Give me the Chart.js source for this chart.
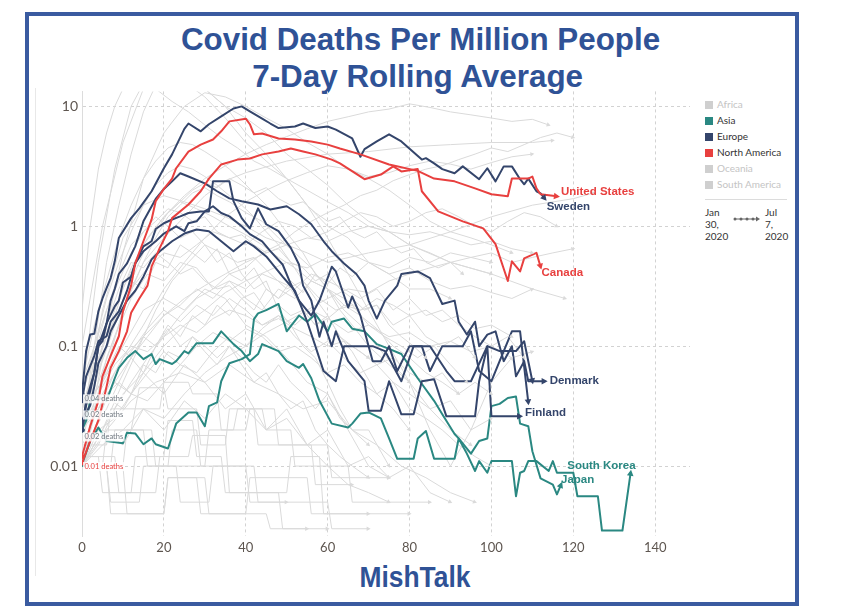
<!DOCTYPE html>
<html>
<head>
<meta charset="utf-8">
<script src="https://cdn.jsdelivr.net/npm/chart.js@4.4.0/dist/chart.umd.min.js"></script>
<style>
  html, body { margin: 0; padding: 0; background: #fff; }
  body { width: 846px; height: 608px; position: relative; overflow: hidden; font-family: Lato, 'Open Sans', sans-serif; }
  .frame { position: absolute; left: 25px; top: 12px; width: 766px; height: 586px; border: 4px solid #3a5ba0; }
  .head { position: absolute; width: 600px; text-align: center; color: #2f5296; font-family: 'Liberation Sans Narrow', 'Liberation Sans', Arial, sans-serif; font-weight: bold; white-space: nowrap; line-height: 1; }
  .head span { display: inline-block; transform-origin: center; }
  .leftline { position: absolute; left: 35px; top: 88px; height: 488px; border-left: 1px solid #e8e8e8; }
  #chartBox { position: absolute; left: 36px; top: 79px; width: 664px; height: 482px; }
  .legend { position: absolute; left: 705px; top: 96px; width: 84px; font-size: 10px; color: #333; }
  .legend .row { height: 16px; line-height: 16px; white-space: nowrap; }
  .legend .sw { display: inline-block; width: 8px; height: 8px; margin-right: 4px; vertical-align: -0.5px; }
  .legend .sep { border-top: 1px solid #dcdcdc; margin: 7px 0 6px 0; width: 82px; }
  .dates { position: relative; height: 40px; font-size: 10px; line-height: 12px; color: #333; }
  .dates .d1 { position: absolute; left: 0; top: 0; }
  .dates .d2 { position: absolute; left: 60px; top: 0; }
  .dates svg { position: absolute; left: 27px; top: 9px; }
</style>
</head>
<body>
<div class="frame"></div>
<div class="head" id="t1" style="left:120px; top:23px; font-size:32px;"><span>Covid Deaths Per Million People</span></div>
<div class="head" id="t2" style="left:118px; top:60px; font-size:32px;"><span>7-Day Rolling Average</span></div>
<div class="head" id="t3" style="left:115px; top:563px; font-size:29px;"><span>MishTalk</span></div>
<div class="leftline"></div>
<div id="chartBox"><canvas id="chart"></canvas></div>
<div class="legend" id="legend"></div>

<script>
// Axis ticks
const xTicks = [0, 20, 40, 60, 80, 100, 120, 140];
const yTicks = [0.01, 0.1, 1, 10];
const yTickLabels = ['0.01', '0.1', '1', '10'];

// Legend
const regions = ['Africa', 'Asia', 'Europe', 'North America', 'Oceania', 'South America'];
const regionShown = [false, true, true, true, false, false];
const dateStart = ['Jan', '30,', '2020'];
const dateEnd = ['Jul', '7,', '2020'];

// Highlighted countries: [days since 0.01 deaths, deaths per million]
const unitedStates = [[0,0.012],[2,0.0215],[4,0.035],[5,0.056],[7,0.083],[9,0.121],[10,0.195],[12,0.32],[13,0.49],[15,0.75],[17,1.14],[18,1.62],[20,2.05],[22,2.5],[23,3.05],[26,4.2],[29,4.8],[32,5.3],[34,6.2],[36,7.5],[40,7.9],[41,7.1],[42,5.85],[44,5.95],[48,5.4],[52,5.3],[56,5.1],[60,4.8],[63,4.45],[68,3.98],[75,3.28],[82,2.9],[86,2.5],[91,2.37],[96,2.07],[100,1.85],[104,1.78],[105,2.5],[109,2.5],[110,2.6],[111,2.07],[112,1.85],[116,1.78]];
const canada = [[0,0.0106],[2,0.0162],[4,0.024],[5,0.033],[6,0.046],[7,0.066],[9,0.091],[11,0.133],[12,0.19],[14,0.25],[16,0.32],[17,0.46],[19,0.66],[21,0.91],[22,1.17],[26,1.52],[29,1.96],[31,2.5],[34,3.28],[38,3.6],[41,3.68],[44,3.98],[48,4.2],[51,4.45],[54,4.2],[57,3.98],[61,3.6],[63,3.35],[69,2.47],[73,2.7],[76,3.16],[78,2.87],[82,3.0],[83,1.96],[87,1.33],[93,1.1],[98,0.96],[101,0.71],[104,0.35],[105,0.51],[107,0.42],[108,0.54],[111,0.6],[112,0.46]];
const sweden = [[0,0.04],[1,0.091],[2,0.125],[3,0.127],[4,0.195],[5,0.25],[6,0.305],[7,0.37],[8,0.51],[9,0.8],[12,1.17],[14,1.41],[17,1.96],[20,3.05],[22,3.98],[25,6.5],[26,7.2],[29,6.2],[31,7.1],[34,8.25],[37,9.6],[39,10],[41,9.1],[44,7.9],[46,7.2],[48,6.6],[52,6.8],[54,7.2],[57,6.6],[60,6.8],[62,6.4],[66,5.4],[68,3.8],[69,4.4],[72,5.1],[75,5.85],[78,5.1],[83,3.6],[84,3.7],[86,3.35],[88,3.0],[91,2.77],[93,3.16],[97,2.47],[99,3.05],[101,2.37],[103,3.16],[105,3.16],[107,2.47],[108,2.24],[109,2.5],[111,1.96],[112,1.88],[113,1.71]];
const denmark = [[0,0.02],[1,0.032],[2,0.042],[3,0.06],[4,0.1],[6,0.155],[7,0.24],[8,0.3],[9,0.4],[11,0.49],[13,0.68],[15,1.1],[18,1.69],[20,2.05],[22,2.37],[24,2.77],[26,2.6],[30,2.28],[33,1.96],[36,1.71],[39,1.62],[43,1.52],[46,1.38],[50,1.47],[53,1.26],[56,1.04],[59,0.75],[61,0.62],[64,0.49],[67,0.4],[69,0.32],[70,0.24],[72,0.17],[74,0.24],[77,0.32],[78,0.4],[82,0.42],[85,0.37],[88,0.225],[91,0.24],[92,0.16],[94,0.125],[96,0.16],[97,0.1],[99,0.125],[101,0.133],[103,0.075],[105,0.1],[106,0.056],[108,0.075],[109,0.051],[111,0.051],[113,0.051]];
const finland = [[0,0.02],[1,0.035],[3,0.06],[4,0.1],[5,0.11],[6,0.155],[8,0.215],[9,0.24],[10,0.34],[12,0.38],[13,0.49],[15,0.68],[17,0.75],[18,0.95],[20,1.06],[22,1.14],[24,1.21],[26,1.29],[29,1.33],[31,1.33],[32,2.37],[36,2.37],[37,1.62],[39,1.17],[41,0.96],[43,1.41],[45,1.04],[48,0.91],[51,0.66],[53,0.48],[54,0.32],[56,0.24],[58,0.12],[59,0.16],[61,0.1],[62,0.133],[65,0.075],[67,0.062],[69,0.051],[70,0.029],[73,0.029],[75,0.051],[78,0.027],[81,0.027],[83,0.051],[86,0.053],[89,0.026],[96,0.026],[97,0.051],[99,0.1],[100,0.026],[107,0.026]];
const norway = [[0,0.035],[1,0.056],[3,0.083],[4,0.11],[6,0.121],[7,0.16],[9,0.195],[11,0.29],[12,0.38],[13,0.49],[15,0.62],[18,0.75],[20,0.87],[23,1.0],[25,0.91],[26,1.06],[28,1.1],[30,1.33],[32,1.47],[34,1.29],[36,1.21],[39,1.0],[41,0.86],[44,0.75],[46,0.62],[49,0.48],[51,0.33],[53,0.24],[56,0.18],[58,0.24],[61,0.46],[62,0.42],[65,0.21],[66,0.26],[68,0.18],[70,0.1],[71,0.075],[73,0.075],[75,0.1],[77,0.062],[80,0.1],[83,0.1],[85,0.062],[88,0.1],[93,0.1],[95,0.133],[97,0.062],[100,0.051],[102,0.075],[105,0.133],[107,0.133],[109,0.034]];
const iceland = [[0,0.024],[2,0.032],[3,0.046],[4,0.072],[6,0.1],[7,0.133],[9,0.18],[11,0.24],[13,0.29],[15,0.38],[17,0.53],[19,0.62],[22,0.75],[25,0.87],[28,0.94],[31,0.91],[34,0.75],[37,0.62],[40,0.75],[42,0.68],[45,0.56],[49,0.38],[52,0.29],[55,0.16],[57,0.1],[59,0.062],[62,0.051],[64,0.1],[68,0.1],[71,0.1],[74,0.091],[78,0.051],[81,0.1],[85,0.1],[89,0.062],[91,0.051],[95,0.051],[99,0.1],[102,0.091],[106,0.091],[108,0.11],[110,0.051]];
const southKorea = [[0,0.02],[1,0.024],[2,0.035],[5,0.037],[6,0.035],[8,0.054],[9,0.066],[11,0.08],[13,0.091],[15,0.078],[17,0.086],[18,0.071],[19,0.078],[22,0.071],[23,0.075],[25,0.091],[26,0.087],[28,0.106],[32,0.106],[34,0.133],[37,0.104],[39,0.091],[41,0.075],[43,0.086],[44,0.104],[48,0.091],[50,0.075],[53,0.066],[54,0.071],[56,0.054],[58,0.035],[61,0.0226],[65,0.021],[66,0.0226],[68,0.0274],[70,0.028],[73,0.025],[75,0.017],[77,0.0115],[81,0.0115],[82,0.017],[84,0.0196],[86,0.0115],[91,0.0115],[92,0.017],[93,0.0147],[94,0.0127],[96,0.0091],[97,0.011],[99,0.0088],[100,0.011],[105,0.011],[106,0.0056],[107,0.0088],[108,0.0091],[109,0.011],[111,0.011],[114,0.0091],[115,0.011],[116,0.0088],[120,0.0088],[121,0.0056],[126,0.0056],[127,0.0029],[132,0.0029],[134,0.0088]];
const japan = [[0,0.0103],[2,0.0162],[4,0.021],[6,0.0162],[10,0.0155],[11,0.019],[13,0.0187],[15,0.0152],[17,0.017],[18,0.0152],[21,0.014],[23,0.0226],[26,0.028],[28,0.028],[30,0.0215],[31,0.0316],[33,0.034],[34,0.051],[36,0.072],[39,0.078],[41,0.086],[42,0.168],[43,0.188],[45,0.2],[48,0.225],[50,0.133],[53,0.18],[55,0.16],[57,0.185],[60,0.133],[61,0.16],[64,0.17],[66,0.14],[69,0.133],[72,0.104],[75,0.095],[78,0.086],[82,0.054],[86,0.035],[88,0.027],[91,0.0185],[92,0.017],[95,0.0127],[97,0.0162],[99,0.017],[100,0.0316],[102,0.033],[104,0.037],[106,0.038],[107,0.0226],[109,0.0215],[110,0.0133],[112,0.0079],[115,0.007],[116,0.0058],[117,0.007]];

// Other countries (grey background lines)
const bg1 = [[0,0.02],[3,0.1],[6,0.5],[9,1.5],[12,4],[15,9],[18,15],[22,20],[26,18],[30,14],[35,10],[40,8],[45,6],[50,4],[55,3],[60,2.2],[65,1.5],[70,1.1],[75,0.9],[80,0.7],[90,0.5],[100,0.4],[110,0.3],[118,0.25]];
const bg2 = [[0,0.04],[4,0.5],[8,3],[12,10],[16,18],[20,20],[25,16],[30,12],[35,8],[40,5],[45,3.5],[50,2.5],[55,1.5],[60,0.8],[65,0.4],[70,0.2],[75,0.1],[80,0.05],[85,0.02],[90,0.01],[95,0.02],[100,0.05],[105,0.08]];
const bg3 = [[0,0.015],[5,0.1],[10,0.6],[15,2.5],[20,6],[25,10],[30,13],[35,12],[40,10],[45,8],[50,6.5],[55,5],[60,4],[65,3],[70,2.5],[75,2],[80,1.5],[85,1.1],[90,0.9],[95,0.8],[100,0.7],[105,0.6]];
const bg4 = [[0,0.1],[5,1],[10,5],[15,14],[20,25],[25,20],[30,14],[35,10],[40,6],[45,4],[50,2.5],[55,1.5],[60,1],[65,0.8],[70,0.5],[75,0.4],[80,0.3],[85,0.3],[90,0.25]];
const bg5 = [[0,0.01],[5,0.05],[10,0.2],[15,0.5],[20,0.8],[25,1.2],[30,1.8],[35,2.4],[40,2.8],[50,3.5],[60,4],[70,4.2],[80,4.6],[90,4.8],[100,5],[110,5],[115,5.2]];
const bg6 = [[0,0.01],[5,0.08],[10,0.3],[15,0.7],[20,1.2],[25,1.8],[30,2.5],[35,3.2],[40,4],[45,4.8],[50,5.6],[55,6.5],[60,7.5],[65,8.2],[70,9],[75,9.5],[80,10.5],[85,9.8],[90,9],[95,8.5],[100,8],[105,7.5],[110,7.8],[114,7]];
const bg7 = [[0,0.02],[5,0.2],[10,0.8],[15,1.5],[20,1.8],[25,1.6],[30,1.4],[35,1.2],[40,1],[45,0.8],[50,0.7],[55,0.6],[60,0.5],[70,0.6],[80,0.7],[90,0.9],[100,1.2],[110,1.5],[120,1.7],[125,1.9]];
const bg8 = [[0,0.01],[3,0.03],[6,0.08],[9,0.15],[12,0.3],[15,0.5],[18,0.8],[21,1.2],[24,1.5],[27,1.9],[30,2.1],[33,1.8],[36,1.6],[40,1.3],[44,1.1],[48,0.8],[52,0.6],[56,0.45],[60,0.3],[64,0.2],[68,0.15],[72,0.1],[76,0.07],[80,0.05],[85,0.03],[90,0.02],[95,0.015]];
const bg9 = [[0,0.02],[4,0.06],[8,0.15],[12,0.3],[16,0.45],[20,0.6],[24,0.55],[28,0.7],[32,0.9],[36,0.8],[40,0.7],[44,0.9],[48,1.1],[52,1.0],[56,0.8],[60,0.9],[64,1.1],[68,1.3],[72,1.2],[76,1.0],[80,1.1],[84,1.3],[88,1.4],[92,1.2],[96,1.0],[100,0.9],[104,1.1],[108,1.3],[112,1.2],[116,1.0]];
const bg10 = [[0,0.01],[5,0.02],[10,0.05],[14,0.1],[18,0.2],[22,0.35],[26,0.5],[30,0.7],[34,0.6],[38,0.5],[42,0.55],[46,0.4],[50,0.3],[54,0.35],[58,0.25],[62,0.2],[66,0.22],[70,0.15],[74,0.12],[78,0.1],[82,0.08],[86,0.1],[90,0.07],[94,0.05]];
const bg11 = [[0,0.03],[3,0.06],[6,0.12],[9,0.2],[12,0.35],[15,0.3],[18,0.5],[21,0.45],[24,0.7],[27,0.6],[30,0.5],[33,0.65],[36,0.4],[39,0.35],[42,0.45],[45,0.3],[48,0.25],[51,0.3],[54,0.2],[57,0.15],[60,0.18],[63,0.12],[66,0.1],[70,0.08]];
const bg12 = [[0,0.01],[4,0.015],[8,0.03],[12,0.05],[16,0.08],[20,0.12],[24,0.18],[28,0.25],[32,0.3],[36,0.4],[40,0.45],[44,0.6],[48,0.7],[52,0.9],[56,1.1],[60,1.3],[64,1.5],[68,1.8],[72,2.0],[76,2.4],[80,2.7],[84,3.0],[88,3.2],[92,3.6],[96,4.0],[100,4.5],[104,4.2],[108,4.8],[112,5.5],[116,6.0],[120,5.5]];
const bg13 = [[0,0.02],[3,0.05],[6,0.1],[9,0.2],[12,0.35],[15,0.6],[18,0.9],[21,1.3],[24,1.6],[27,2.0],[30,2.3],[33,2.1],[36,2.5],[39,2.2],[42,1.9],[45,2.1],[48,1.7],[51,1.5],[54,1.6],[57,1.3],[60,1.1],[63,1.2],[66,0.9],[69,0.8],[72,0.9],[75,0.7],[78,0.6],[81,0.65],[84,0.5],[87,0.45],[90,0.5],[93,0.4]];
const bg14 = [[0,0.01],[5,0.03],[10,0.08],[15,0.15],[20,0.3],[25,0.5],[30,0.8],[35,1.2],[40,1.6],[45,2.0],[50,2.4],[55,2.8],[60,3.2],[65,3.0],[70,2.6],[75,2.8],[80,3.2],[85,3.5],[90,3.3],[95,3.0],[100,3.4],[105,3.8],[110,4.0]];
const bg15 = [[0,0.02],[4,0.04],[8,0.07],[12,0.1],[16,0.09],[20,0.12],[24,0.15],[28,0.13],[32,0.17],[36,0.2],[40,0.18],[44,0.15],[48,0.17],[52,0.14],[56,0.12],[60,0.1],[64,0.11],[68,0.09],[72,0.07],[76,0.08],[80,0.06],[84,0.05],[88,0.06],[92,0.04],[96,0.05],[100,0.04]];
const bg16 = [[0,0.01],[3,0.02],[6,0.04],[9,0.05],[12,0.08],[15,0.06],[18,0.1],[21,0.14],[24,0.1],[27,0.12],[30,0.09],[33,0.07],[36,0.1],[39,0.08],[42,0.06],[45,0.05],[48,0.07],[51,0.05],[54,0.04],[57,0.03],[60,0.04],[63,0.025],[66,0.02],[70,0.015]];
const bg17 = [[0,0.04],[3,0.08],[6,0.2],[9,0.4],[12,0.7],[15,0.9],[18,1.2],[21,1.0],[24,0.8],[27,0.9],[30,0.7],[33,0.5],[36,0.6],[39,0.4],[42,0.3],[45,0.35],[48,0.2],[51,0.15],[54,0.1],[57,0.08],[60,0.05],[63,0.03],[66,0.02],[70,0.02],[75,0.01]];
const bg18 = [[0,0.01],[5,0.02],[10,0.04],[15,0.06],[20,0.1],[25,0.15],[30,0.2],[35,0.28],[40,0.35],[45,0.42],[50,0.5],[55,0.45],[60,0.55],[65,0.6],[70,0.5],[75,0.4],[80,0.45],[85,0.35],[90,0.3],[95,0.32],[100,0.28],[105,0.25],[110,0.3]];
const bg19 = [[0,0.01],[7,0.01],[8,0.02],[15,0.02],[16,0.01],[23,0.01],[24,0.005],[31,0.005],[32,0.01],[40,0.01],[41,0.005],[50,0.005]];
const bg20 = [[0,0.015],[6,0.015],[7,0.03],[13,0.03],[14,0.045],[20,0.045],[21,0.03],[28,0.03],[29,0.015],[35,0.015],[36,0.03],[42,0.03],[43,0.015],[56,0.015],[57,0.007],[66,0.007]];
const bg21 = [[0,0.02],[5,0.04],[10,0.03],[15,0.06],[20,0.04],[25,0.07],[30,0.05],[35,0.03],[40,0.04],[45,0.02],[50,0.03],[55,0.015],[60,0.01],[65,0.007],[70,0.006],[75,0.005]];
const bg22 = [[0,0.012],[4,0.012],[5,0.006],[12,0.006],[13,0.012],[20,0.012],[21,0.024],[27,0.024],[28,0.012],[34,0.012],[35,0.006],[48,0.006],[49,0.003],[55,0.003]];
const bg23 = [[0,0.01],[6,0.02],[12,0.035],[18,0.05],[24,0.06],[30,0.05],[36,0.07],[42,0.05],[48,0.04],[54,0.03],[60,0.035],[66,0.02],[72,0.015],[78,0.01],[84,0.008],[90,0.006],[96,0.005]];
const bg24 = [[0,0.03],[5,0.05],[10,0.1],[15,0.2],[20,0.25],[25,0.2],[30,0.3],[35,0.25],[40,0.15],[45,0.12],[50,0.08],[55,0.05],[60,0.04],[65,0.02],[70,0.01],[75,0.008]];
const bg25 = [[0,0.01],[10,0.01],[11,0.004],[20,0.004],[21,0.008],[30,0.008],[31,0.004],[40,0.004],[41,0.008],[55,0.008],[56,0.004],[70,0.004]];
const bg26 = [[0,0.02],[4,0.03],[8,0.05],[12,0.08],[16,0.12],[20,0.18],[24,0.22],[28,0.3],[32,0.25],[36,0.35],[40,0.3],[44,0.4],[48,0.35],[52,0.3],[56,0.4],[60,0.35],[64,0.3],[68,0.25],[72,0.3],[76,0.2],[80,0.25],[84,0.18],[88,0.2],[92,0.15],[96,0.12],[100,0.1],[104,0.12],[108,0.08]];
const bg27 = [[0,0.01],[5,0.015],[10,0.02],[15,0.03],[20,0.025],[25,0.04],[30,0.06],[35,0.08],[40,0.1],[45,0.13],[50,0.16],[55,0.2],[60,0.25],[65,0.3],[70,0.28],[75,0.35],[80,0.4],[85,0.45],[90,0.5],[95,0.55],[100,0.6],[105,0.5],[110,0.55],[115,0.6],[120,0.65]];
const bg28 = [[0,0.05],[3,0.15],[6,0.35],[9,0.8],[12,1.5],[15,2.5],[18,3.5],[21,4.5],[24,5.0],[27,4.8],[30,4.2],[33,3.6],[36,3.0],[39,2.4],[42,1.9],[45,1.5],[48,1.1],[51,0.8],[54,0.6],[57,0.4],[60,0.3],[63,0.2],[66,0.15],[70,0.1],[75,0.07],[80,0.05]];
const bg29 = [[0,0.01],[6,0.01],[7,0.005],[14,0.005],[15,0.01],[21,0.01],[22,0.02],[28,0.02],[29,0.01],[42,0.01],[43,0.005],[60,0.005],[61,0.003],[70,0.003]];
const bg30 = [[0,0.2],[2,1],[4,3],[6,6],[8,10],[10,14],[14,16],[18,14],[22,11],[26,9],[30,7],[34,5.5],[38,4.5],[42,3.5],[46,3],[50,2.5],[55,2],[60,1.6],[65,1.3],[70,1.0],[75,0.9],[80,0.7],[85,0.6],[90,0.5],[100,0.4]];
const bg31 = [[0,0.015],[4,0.03],[8,0.06],[12,0.09],[16,0.14],[20,0.2],[24,0.16],[28,0.22],[32,0.18],[36,0.25],[40,0.2],[44,0.15],[48,0.18],[52,0.12],[56,0.09],[60,0.11],[64,0.08],[68,0.06],[72,0.07],[76,0.05],[80,0.04],[85,0.03],[90,0.035],[95,0.02],[100,0.025]];
const bg32 = [[0,0.01],[3,0.02],[6,0.03],[9,0.05],[12,0.04],[15,0.07],[18,0.06],[21,0.09],[24,0.08],[27,0.12],[30,0.1],[33,0.08],[36,0.1],[39,0.07],[42,0.05],[45,0.06],[48,0.04],[51,0.03],[54,0.035],[57,0.02],[60,0.015],[63,0.012],[66,0.01],[70,0.008]];
const bg33 = [[0,0.03],[3,0.07],[6,0.15],[9,0.3],[12,0.5],[15,0.45],[18,0.6],[21,0.5],[24,0.4],[27,0.45],[30,0.35],[33,0.3],[36,0.32],[39,0.25],[42,0.28],[45,0.2],[48,0.22],[51,0.18],[54,0.2],[57,0.15],[60,0.17],[65,0.13],[70,0.15],[75,0.12],[80,0.13],[85,0.1],[90,0.11],[95,0.09],[100,0.1],[105,0.08],[110,0.09]];
const bg34 = [[0,0.01],[5,0.01],[6,0.02],[12,0.02],[13,0.03],[19,0.03],[20,0.05],[26,0.05],[27,0.04],[33,0.04],[34,0.02],[40,0.02],[41,0.03],[47,0.03],[48,0.015],[60,0.015],[61,0.008],[75,0.008]];
const bg35 = [[0,0.02],[4,0.05],[8,0.12],[12,0.25],[16,0.4],[20,0.35],[24,0.5],[28,0.45],[32,0.3],[36,0.35],[40,0.25],[44,0.2],[48,0.3],[52,0.25],[56,0.35],[60,0.3],[64,0.25],[68,0.2],[72,0.22],[76,0.15],[80,0.18],[84,0.12],[88,0.1],[92,0.12],[96,0.08]];
const bg36 = [[0,0.01],[4,0.02],[8,0.025],[12,0.04],[16,0.035],[20,0.05],[24,0.07],[28,0.06],[32,0.09],[36,0.12],[40,0.1],[44,0.14],[48,0.18],[52,0.15],[56,0.2],[60,0.17],[64,0.22],[68,0.2],[72,0.25],[76,0.22],[80,0.18],[84,0.2],[88,0.16],[92,0.18],[96,0.14],[100,0.15],[105,0.12]];
const bg37 = [[0,0.05],[3,0.1],[6,0.2],[9,0.35],[12,0.6],[15,0.9],[18,1.1],[21,1.4],[24,1.3],[27,1.1],[30,1.2],[33,0.9],[36,0.8],[39,0.85],[42,0.7],[45,0.6],[48,0.65],[51,0.5],[54,0.45],[57,0.35],[60,0.4],[63,0.3],[66,0.25],[69,0.2],[72,0.22],[75,0.15],[78,0.12],[81,0.1],[84,0.08]];
const bg38 = [[0,0.012],[8,0.012],[9,0.006],[18,0.006],[19,0.012],[26,0.012],[27,0.018],[35,0.018],[36,0.006],[50,0.006],[51,0.012],[58,0.012],[59,0.004],[80,0.004]];
const bg39 = [[0,0.01],[5,0.02],[10,0.015],[15,0.03],[20,0.02],[25,0.035],[30,0.025],[35,0.04],[40,0.03],[45,0.02],[50,0.025],[55,0.015],[60,0.02],[65,0.01],[70,0.012],[75,0.008],[80,0.01],[85,0.006],[90,0.005]];
const bg40 = [[0,0.04],[3,0.1],[6,0.25],[9,0.5],[12,0.9],[15,1.5],[18,2.2],[21,2.8],[24,3.2],[27,3.0],[30,2.6],[33,2.2],[36,1.8],[39,1.5],[42,1.2],[45,0.9],[48,0.7],[51,0.5],[54,0.35],[57,0.25],[60,0.18],[63,0.12],[66,0.09],[69,0.06],[72,0.04],[76,0.03],[80,0.02]];
const bg41 = [[0,0.02],[5,0.04],[10,0.08],[15,0.12],[20,0.18],[25,0.25],[30,0.32],[35,0.4],[40,0.5],[45,0.6],[50,0.7],[55,0.8],[60,0.75],[65,0.9],[70,1.0],[75,0.9],[80,0.85],[85,0.9],[90,0.8],[95,0.7],[100,0.75],[105,0.65],[110,0.6]];
const bg42 = [[0,0.01],[10,0.01],[11,0.02],[17,0.02],[18,0.01],[30,0.01],[31,0.02],[37,0.02],[38,0.03],[44,0.03],[45,0.02],[51,0.02],[52,0.01],[65,0.01],[66,0.005],[85,0.005]];
const bg43 = [[0,0.015],[4,0.03],[8,0.05],[12,0.04],[16,0.06],[20,0.09],[24,0.07],[28,0.1],[32,0.13],[36,0.11],[40,0.14],[44,0.12],[48,0.09],[52,0.1],[56,0.08],[60,0.06],[64,0.07],[68,0.05],[72,0.04],[76,0.05],[80,0.03],[84,0.025],[88,0.02],[92,0.015],[96,0.012],[100,0.01]];
const bg44 = [[0,0.03],[4,0.08],[8,0.2],[12,0.45],[16,0.8],[20,1.2],[24,1.6],[28,1.4],[32,1.2],[36,1.0],[40,0.85],[44,0.7],[48,0.55],[52,0.45],[56,0.35],[60,0.3],[64,0.22],[68,0.18],[72,0.14],[76,0.1],[80,0.08],[84,0.06],[88,0.05],[92,0.04]];
const bg45 = [[0,0.01],[6,0.01],[7,0.004],[20,0.004],[21,0.008],[28,0.008],[29,0.004],[45,0.004],[46,0.003],[60,0.003]];
const bg46 = [[0,0.02],[3,0.04],[6,0.06],[9,0.1],[12,0.08],[15,0.12],[18,0.1],[21,0.15],[24,0.12],[27,0.18],[30,0.15],[33,0.22],[36,0.18],[39,0.25],[42,0.2],[45,0.3],[48,0.25],[51,0.35],[54,0.28],[57,0.4],[60,0.33],[63,0.45],[66,0.38],[70,0.5],[75,0.45],[80,0.55],[85,0.5],[90,0.6],[95,0.55],[100,0.5]];
const backgroundLines = [bg1, bg2, bg3, bg4, bg5, bg6, bg7, bg8, bg9, bg10, bg11, bg12, bg13, bg14, bg15, bg16, bg17, bg18, bg19, bg20, bg21, bg22, bg23, bg24, bg25, bg26, bg27, bg28, bg29, bg30,
  bg31, bg32, bg33, bg34, bg35, bg36, bg37, bg38, bg39, bg40, bg41, bg42, bg43, bg44, bg45, bg46];

// Colours
const regionColors = { 'Africa': '#cfcfcf', 'Asia': '#2a8882', 'Europe': '#34456b', 'North America': '#e8403f', 'Oceania': '#cfcfcf', 'South America': '#cfcfcf' };
const GREY_LINE = '#dadada';
const TICK_COLOR = '#5e5650';

// Highlighted series, with where to place end label / start note (px offsets)
const highlighted = [
  { name: 'United States', region: 'North America', points: unitedStates, label: true, dx: 4, dy: -4, note: 10 },
  { name: 'Canada', region: 'North America', points: canada, label: true, dx: 1, dy: 6 },
  { name: 'Sweden', region: 'Europe', points: sweden, label: true, dx: 2, dy: 8, note: 5 },
  { name: 'Denmark', region: 'Europe', points: denmark, label: true, dx: 5, dy: 0, note: -15 },
  { name: 'Finland', region: 'Europe', points: finland, label: true, dx: 5, dy: -3 },
  { name: 'Norway', region: 'Europe', points: norway, label: false },
  { name: 'Iceland', region: 'Europe', points: iceland, label: false },
  { name: 'South Korea', region: 'Asia', points: southKorea, label: true, dx: 5, dy: -7, align: 'right', note: 7 },
  { name: 'Japan', region: 'Asia', points: japan, label: true, dx: 0, dy: -5 }
];

function toXY(points) {
  return points.map(p => ({ x: p[0], y: p[1] }));
}

// Build the datasets
const datasets = [];
highlighted.forEach(h => {
  datasets.push({
    label: h.name,
    data: toXY(h.points),
    borderColor: regionColors[h.region],
    backgroundColor: regionColors[h.region],
    borderWidth: 2,
    pointRadius: ctx => ctx.dataIndex === 0 ? 2.5 : 0,
    pointBorderWidth: 0,
    order: 0,
    endInfo: h,
    arrowSize: 6
  });
});
backgroundLines.forEach((pts, i) => {
  datasets.push({
    label: 'other ' + (i + 1),
    data: toXY(pts),
    borderColor: GREY_LINE,
    backgroundColor: GREY_LINE,
    borderWidth: 1,
    pointRadius: 0,
    order: 1,
    arrowSize: 4
  });
});

// Arrow heads, end labels and the small "x deaths" notes
const endLabels = {
  id: 'endLabels',
  afterDatasetsDraw(chart) {
    const ctx = chart.ctx;
    const area = chart.chartArea;
    // grey first, highlighted on top
    const order = chart.data.datasets.map((d, i) => i).sort((a, b) => chart.data.datasets[b].order - chart.data.datasets[a].order);
    order.forEach(i => {
      const ds = chart.data.datasets[i];
      const pts = chart.getDatasetMeta(i).data;
      if (pts.length < 2) return;
      const a = pts[pts.length - 2];
      const b = pts[pts.length - 1];
      if (b.y < area.top || b.y > area.bottom) return;
      const ang = Math.atan2(b.y - a.y, b.x - a.x);
      const s = ds.arrowSize;
      ctx.save();
      ctx.fillStyle = ds.borderColor;
      ctx.beginPath();
      ctx.moveTo(b.x + Math.cos(ang) * s * 0.5, b.y + Math.sin(ang) * s * 0.5);
      ctx.lineTo(b.x - Math.cos(ang) * s * 0.5 - Math.sin(ang) * s * 0.55, b.y - Math.sin(ang) * s * 0.5 + Math.cos(ang) * s * 0.55);
      ctx.lineTo(b.x - Math.cos(ang) * s * 0.5 + Math.sin(ang) * s * 0.55, b.y - Math.sin(ang) * s * 0.5 - Math.cos(ang) * s * 0.55);
      ctx.closePath();
      ctx.fill();
      const h = ds.endInfo;
      if (h && h.label) {
        ctx.font = 'bold 11.5px "Liberation Sans", Arial, sans-serif';
        ctx.textAlign = h.align || 'left';
        ctx.textBaseline = 'middle';
        ctx.fillText(h.name, b.x + h.dx, b.y + h.dy);
      }
      if (h && h.note !== undefined) {
        const p0 = pts[0];
        const txt = ds.data[0].y.toFixed(2) + ' deaths';
        ctx.font = '7.5px Lato, sans-serif';
        const w = ctx.measureText(txt).width;
        const ty = p0.y + h.note;
        ctx.fillStyle = 'rgba(255,255,255,0.85)';
        ctx.fillRect(p0.x + 1, ty - 4.5, w + 3, 9);
        ctx.fillStyle = h.region === 'North America' ? '#e8403f' : '#707880';
        ctx.textAlign = 'left';
        ctx.textBaseline = 'middle';
        ctx.fillText(txt, p0.x + 2.5, ty);
      }
      ctx.restore();
    });
  }
};

new Chart(document.getElementById('chart'), {
  type: 'line',
  data: { datasets: datasets },
  options: {
    responsive: true,
    maintainAspectRatio: false,
    animation: false,
    layout: { padding: { top: 6, right: 10, left: 0, bottom: 0 } },
    elements: { line: { tension: 0, borderJoinStyle: 'round', borderCapStyle: 'round' } },
    plugins: { legend: { display: false }, tooltip: { enabled: false } },
    scales: {
      x: {
        type: 'linear',
        min: 0,
        max: 148.5,
        afterBuildTicks: s => { s.ticks = xTicks.map(v => ({ value: v })); },
        afterFit: s => { s.height = 25; },
        ticks: { padding: 4, color: TICK_COLOR, font: { family: 'Lato', size: 13 }, maxRotation: 0 },
        grid: { color: '#d2d2d2', drawTicks: false },
        border: { display: false, dash: [3, 3] }
      },
      y: {
        type: 'logarithmic',
        min: 0.00261,
        max: 13.34,
        afterBuildTicks: s => { s.ticks = yTicks.map(v => ({ value: v })); },
        afterFit: s => { s.width = 46; },
        ticks: { padding: 4, color: TICK_COLOR, font: { family: 'Lato', size: 14 }, callback: (v, i) => yTickLabels[i] },
        grid: { color: '#d2d2d2', drawTicks: false },
        border: { display: true, color: '#dcdcdc', dash: [3, 3] }
      }
    }
  },
  plugins: [endLabels]
});

// Legend
const legend = document.getElementById('legend');
regions.forEach((r, i) => {
  const row = document.createElement('div');
  row.className = 'row';
  row.style.color = regionShown[i] ? '#333' : '#c4c4c4';
  row.innerHTML = '<span class="sw" style="background:' + regionColors[r] + '"></span>' + r;
  legend.appendChild(row);
});
const sep = document.createElement('div');
sep.className = 'sep';
legend.appendChild(sep);
const dates = document.createElement('div');
dates.className = 'dates';
dates.innerHTML = '<div class="d1">' + dateStart.join('<br>') + '</div>' +
  '<svg width="30" height="8"><line x1="2" y1="4" x2="25" y2="4" stroke="#666" stroke-width="1"/>' +
  '<circle cx="3" cy="4" r="1.5" fill="#666"/><circle cx="9" cy="4" r="1.5" fill="#666"/><circle cx="15" cy="4" r="1.5" fill="#666"/><circle cx="21" cy="4" r="1.5" fill="#666"/>' +
  '<path d="M24 1.5 L28 4 L24 6.5 Z" fill="#666"/></svg>' +
  '<div class="d2">' + dateEnd.join('<br>') + '</div>';
legend.appendChild(dates);

// Squeeze the headings to the condensed widths of the original
function fitWidth(id, width) {
  const span = document.querySelector('#' + id + ' span');
  const w = span.getBoundingClientRect().width;
  span.style.transform = 'scaleX(' + (width / w).toFixed(3) + ')';
}
fitWidth('t1', 479);
fitWidth('t2', 331);
fitWidth('t3', 111);
</script>
</body>
</html>
